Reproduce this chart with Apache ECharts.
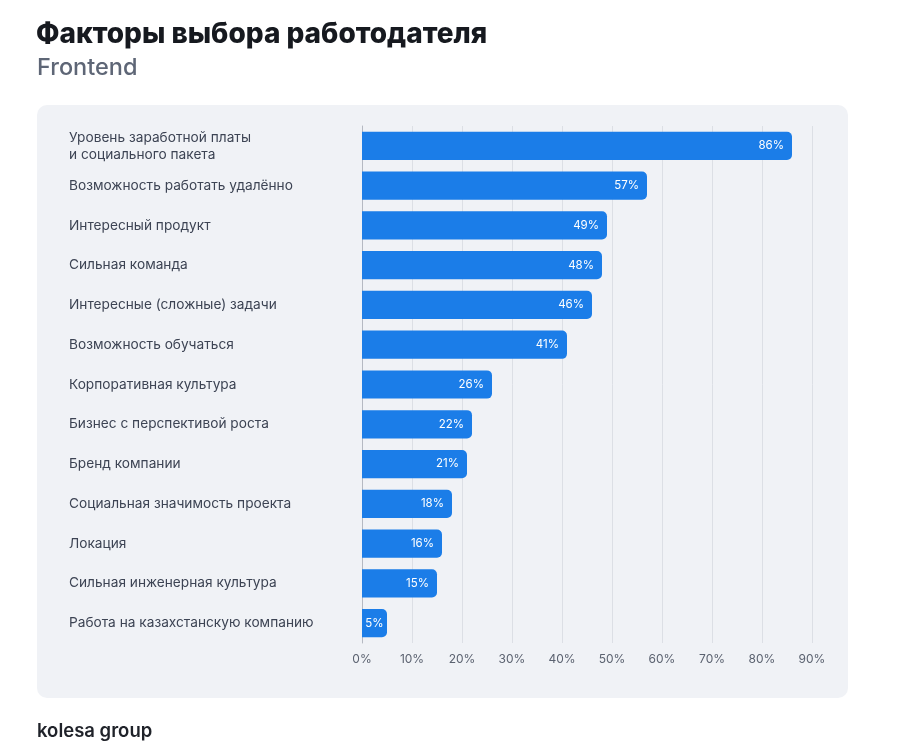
<!DOCTYPE html>
<html><head><meta charset="utf-8">
<script src="https://cdn.jsdelivr.net/npm/echarts@6/dist/echarts.min.js"></script>
<style>html,body{margin:0;padding:0;background:#fff}#c{width:900px;height:754px}</style>
</head><body><div id="c"></div>
<script>
const categories = [
  "Уровень заработной платы\nи социального пакета",
  "Возможность работать удалённо",
  "Интересный продукт",
  "Сильная команда",
  "Интересные (сложные) задачи",
  "Возможность обучаться",
  "Корпоративная культура",
  "Бизнес с перспективой роста",
  "Бренд компании",
  "Социальная значимость проекта",
  "Локация",
  "Сильная инженерная культура",
  "Работа на казахстанскую компанию"
];
const values = [86, 57, 49, 48, 46, 41, 26, 22, 21, 18, 16, 15, 5];
const titleText = "Факторы выбора работодателя";
const subtitleText = "Frontend";
const footerText = "kolesa group";

const seriesData = values.map(v => v < 8 ? {value: v, label: {position: 'inside'}} : v);

const chart = echarts.init(document.getElementById('c'), null, {renderer: 'canvas'});
chart.setOption({
  backgroundColor: '#ffffff',
  animation: false,
  graphic: [
    {type: 'rect', z: -10, shape: {x: 37, y: 105, width: 811, height: 593, r: 10}, style: {fill: '#f0f2f6'}},
    {type: 'text', left: 36, top: 21, style: {text: titleText, font: '800 28px Inter, "Noto Sans", sans-serif', fill: '#16191f'}},
    {type: 'text', left: 37, top: 56, style: {text: subtitleText, font: '500 23.5px Inter, "Noto Sans", sans-serif', fill: '#5e6676'}},
    {type: 'text', left: 37, top: 722, style: {text: footerText, font: '600 18.5px Inter, "Noto Sans", sans-serif', fill: '#1f2229'}}
  ],
  grid: {left: 362, right: 88, top: 126, bottom: 111, containLabel: false},
  xAxis: {
    type: 'value', min: 0, max: 90, interval: 10,
    axisLine: {show: false}, axisTick: {show: false},
    splitLine: {lineStyle: {color: '#dcdfe5', width: 1}},
    axisLabel: {formatter: '{value}%', color: '#5b6270', fontSize: 12, margin: 10, fontFamily: 'Inter, "Noto Sans", sans-serif'}
  },
  yAxis: {
    type: 'category', data: categories, inverse: true,
    axisLine: {show: true, lineStyle: {color: '#b5b9c2'}}, axisTick: {show: false},
    axisLabel: {align: 'left', margin: 293, color: '#3d4454', fontSize: 13.7, lineHeight: 17, padding: [3, 0, 0, 0], fontFamily: 'Inter, "Noto Sans", sans-serif'}
  },
  series: [{
    type: 'bar', data: seriesData, barCategoryGap: '29%',
    itemStyle: {color: '#1b7de8', borderRadius: [0, 5, 5, 0]},
    label: {show: true, position: 'insideRight', formatter: '{c}%', color: '#ffffff', fontSize: 11.5, distance: 8, fontFamily: 'Inter, "Noto Sans", sans-serif'}
  }]
});
</script></body></html>
